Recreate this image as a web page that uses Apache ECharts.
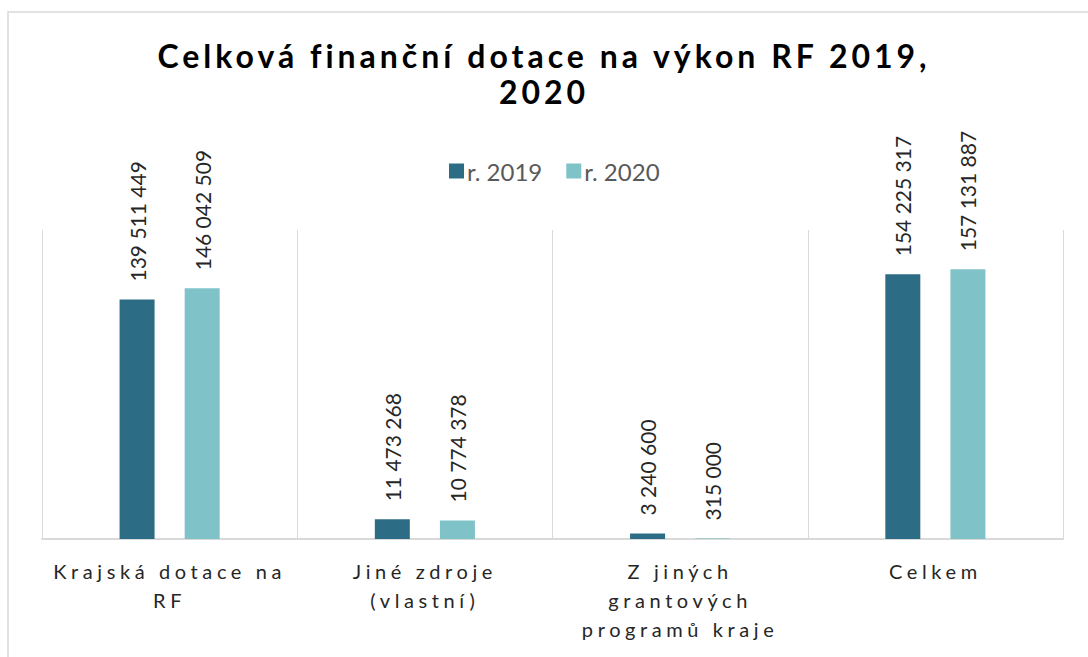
<!DOCTYPE html>
<html>
<head>
<meta charset="utf-8">
<script src="https://cdn.jsdelivr.net/npm/echarts@6/dist/echarts.min.js"></script>
<style>
  html, body { margin: 0; padding: 0; background: #fff; }
  #main { width: 1088px; height: 657px; }
  /* Excel-like spaced text for title and category labels */
  #main text[style*="32px"] { letter-spacing: 4px; }
  #main text[style*="20px"] { letter-spacing: 4.6px; }
</style>
</head>
<body>
<div id="main"></div>
<script>
var categories = [
  "Krajská dotace na\nRF",
  "Jiné zdroje\n(vlastní)",
  "Z jiných\ngrantových\nprogramů kraje",
  "Celkem"
];
var values2019 = [139511449, 11473268, 3240600, 154225317];
var values2020 = [146042509, 10774378, 315000, 157131887];
var seriesNames = ["r. 2019", "r. 2020"];

function fmt(v) {
  return String(v).replace(/\B(?=(\d{3})+(?!\d))/g, " ");
}

var myChart = echarts.init(document.getElementById("main"), null, { renderer: "svg" });

var label = {
  show: true,
  position: "top",
  rotate: 90,
  align: "left",
  verticalAlign: "middle",
  distance: 18,
  color: "#262626",
  fontFamily: "Lato",
  fontSize: 21,
  formatter: function (p) { return fmt(p.value); }
};

myChart.setOption({
  animation: false,
  title: {
    text: "Celková finanční dotace na výkon RF 2019,\n2020",
    left: "center",
    top: 32,
    textStyle: {
      fontFamily: "Lato",
      fontWeight: "bold",
      fontSize: 32,
      lineHeight: 36,
      color: "#000"
    }
  },
  legend: {
    data: seriesNames,
    left: 444,
    top: 154,
    icon: "rect",
    itemWidth: 15,
    itemHeight: 15,
    itemGap: 24,
    textStyle: { fontFamily: "Lato", fontSize: 24, color: "#595959", padding: [0, 0, 0, -2] }
  },
  graphic: [{
    type: "rect",
    shape: { x: 8, y: 12, width: 1200, height: 800 },
    style: { fill: "none", stroke: "#d9d9d9", lineWidth: 1.5 },
    silent: true
  }],
  grid: { left: 42, right: 25, top: 230, bottom: 118 },
  xAxis: {
    type: "category",
    data: categories,
    axisLine: { lineStyle: { color: "#d9d9d9", width: 2 } },
    axisTick: { show: false },
    splitLine: { show: true, lineStyle: { color: "#d9d9d9", width: 1 } },
    axisLabel: {
      margin: 17,
      color: "#262626",
      fontFamily: "Lato",
      fontSize: 20,
      lineHeight: 29,
      interval: 0
    }
  },
  yAxis: {
    type: "value",
    min: 0,
    max: 180000000,
    show: false,
    splitLine: { show: false }
  },
  series: [
    {
      name: seriesNames[0],
      type: "bar",
      data: values2019,
      barWidth: 35,
      barGap: "86%",
      itemStyle: { color: "#2d6c85" },
      label: label
    },
    {
      name: seriesNames[1],
      type: "bar",
      data: values2020,
      barWidth: 35,
      itemStyle: { color: "#7fc3c9" },
      label: label
    }
  ]
});
</script>
</body>
</html>
